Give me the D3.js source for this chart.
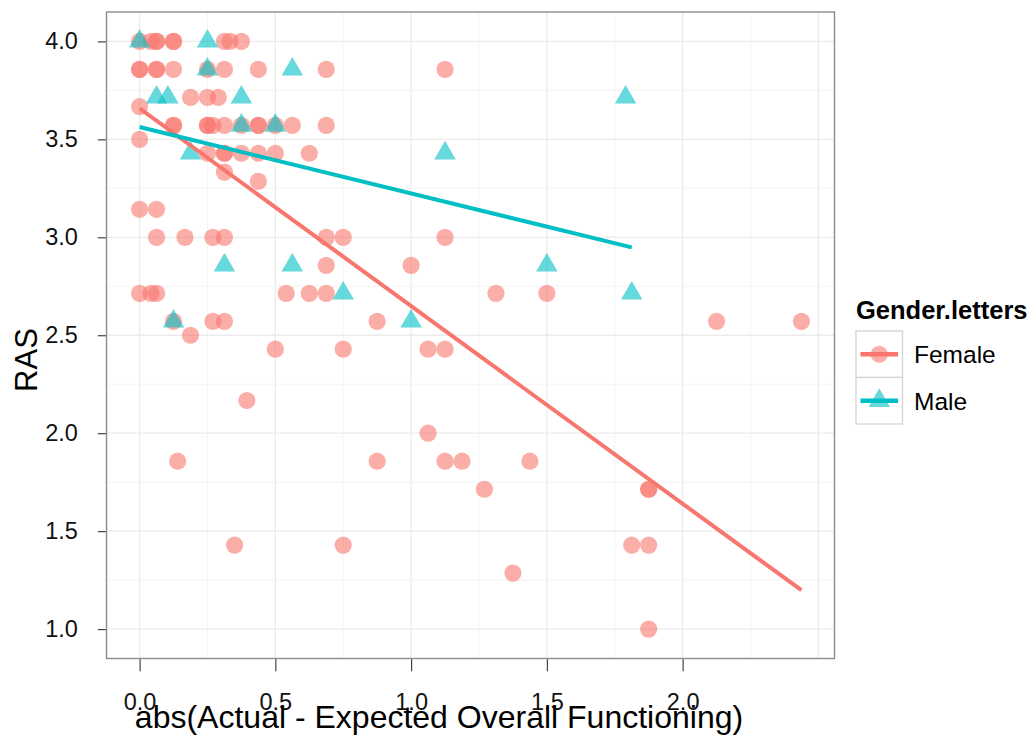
<!DOCTYPE html>
<html>
<head>
<meta charset="utf-8">
<script src="https://cdn.jsdelivr.net/npm/d3@7"></script>
<style>
  body { margin: 0; background: #fff; }
  text { font-family: "Liberation Sans", Arial, sans-serif; }
</style>
</head>
<body>
<div id="chart"></div>
<script>
// values
const femaleX = [0, 0.042, 0.0625, 0.0625, 0.125, 0.125, 0.3125, 0.333, 0.375,
  0, 0, 0.0625, 0.0625, 0.125, 0.25, 0.3125, 0.4375, 0.6875, 1.125,
  0.1875, 0.25, 0.29,
  0,
  0.125, 0.125, 0.25, 0.25, 0.27, 0.3125, 0.375, 0.4375, 0.4375, 0.5, 0.5625, 0.6875,
  0,
  0.25, 0.3125, 0.3125, 0.375, 0.4375, 0.5, 0.625,
  0.3125, 0.4375,
  0, 0.0625,
  0.0625, 0.167, 0.27, 0.3125, 0.6875, 0.75, 1.125,
  0.6875, 1.0,
  0, 0.042, 0.0625, 0.54, 0.625, 0.6875, 1.3125, 1.5,
  0.125, 0.27, 0.3125, 0.875, 2.125, 2.4375,
  0.1875,
  0.5, 0.75, 1.0625, 1.125,
  0.395,
  1.0625,
  0.14, 0.875, 1.125, 1.1875, 1.4375,
  1.27, 1.875, 1.875,
  0.35, 0.75, 1.8125, 1.875,
  1.375,
  1.875];
const femaleY = [4, 4, 4, 4, 4, 4, 4, 4, 4,
  3.857, 3.857, 3.857, 3.857, 3.857, 3.857, 3.857, 3.857, 3.857, 3.857,
  3.714, 3.714, 3.714,
  3.667,
  3.571, 3.571, 3.571, 3.571, 3.571, 3.571, 3.571, 3.571, 3.571, 3.571, 3.571, 3.571,
  3.5,
  3.429, 3.429, 3.429, 3.429, 3.429, 3.429, 3.429,
  3.333, 3.286,
  3.143, 3.143,
  3, 3, 3, 3, 3, 3, 3,
  2.857, 2.857,
  2.714, 2.714, 2.714, 2.714, 2.714, 2.714, 2.714, 2.714,
  2.571, 2.571, 2.571, 2.571, 2.571, 2.571,
  2.5,
  2.429, 2.429, 2.429, 2.429,
  2.167,
  2.0,
  1.857, 1.857, 1.857, 1.857, 1.857,
  1.714, 1.714, 1.714,
  1.429, 1.429, 1.429, 1.429,
  1.286,
  1.0];

const maleX = [0, 0.25, 0.25, 0.5625, 0.0625, 0.104, 0.375, 1.79, 0.375, 0.5,
  0.1875, 1.125, 0.3125, 0.5625, 1.5, 0.75, 1.8125, 0.125, 1.0];
const maleY = [4, 4, 3.857, 3.857, 3.714, 3.714, 3.714, 3.714, 3.571, 3.571,
  3.429, 3.429, 2.857, 2.857, 2.857, 2.714, 2.714, 2.571, 2.571];

// lm fit lines (overplotted points hide some data)
const groups = ["Female", "Male"];
const fitIntercept = [3.658, 3.563];
const fitSlope = [-1.009, -0.339];

const colors = ["#F8766D", "#00BFC4"];
const xTicks = [0, 0.5, 1.0, 1.5, 2.0];
const yTicks = [1.0, 1.5, 2.0, 2.5, 3.0, 3.5, 4.0];
const xGrid = [0, 0.25, 0.5, 0.75, 1, 1.25, 1.5, 1.75, 2, 2.25, 2.5];
const yGrid = [1, 1.25, 1.5, 1.75, 2, 2.25, 2.5, 2.75, 3, 3.25, 3.5, 3.75, 4];

const svgWidth = 1033, svgHeight = 742;
const panel = { left: 106.5, right: 834.5, top: 12, bottom: 658.5 };

const svg = d3.select("#chart").append("svg")
  .attr("width", svgWidth)
  .attr("height", svgHeight);

const data = [];
femaleX.forEach((x, i) => data.push({ x: x, y: femaleY[i], g: "Female" }));
maleX.forEach((x, i) => data.push({ x: x, y: maleY[i], g: "Male" }));

// ggplot style 5% expansion
const xExt = d3.extent(data, d => d.x), yExt = d3.extent(data, d => d.y);
const xPad = (xExt[1] - xExt[0]) * 0.05, yPad = (yExt[1] - yExt[0]) * 0.05;

const x = d3.scaleLinear()
  .domain([xExt[0] - xPad, xExt[1] + xPad])
  .range([panel.left, panel.right]);
const y = d3.scaleLinear()
  .domain([yExt[0] - yPad, yExt[1] + yPad])
  .range([panel.bottom, panel.top]);

const color = d3.scaleOrdinal().domain(groups).range(colors);

// grid
const grid = svg.append("g");
grid.selectAll("line.gx").data(xGrid).enter().append("line")
  .attr("x1", d => x(d)).attr("x2", d => x(d))
  .attr("y1", panel.top).attr("y2", panel.bottom)
  .attr("stroke", (d, i) => i % 2 ? "#f4f4f4" : "#ebebeb")
  .attr("stroke-width", (d, i) => i % 2 ? 1 : 1.3);
grid.selectAll("line.gy").data(yGrid).enter().append("line")
  .attr("y1", d => y(d)).attr("y2", d => y(d))
  .attr("x1", panel.left).attr("x2", panel.right)
  .attr("stroke", (d, i) => i % 2 ? "#f4f4f4" : "#ebebeb")
  .attr("stroke-width", (d, i) => i % 2 ? 1 : 1.3);

// points
const triangle = d3.symbol().type(d3.symbolTriangle).size(200);
svg.append("g").selectAll("circle")
  .data(data.filter(d => d.g === "Female"))
  .enter().append("circle")
  .attr("cx", d => x(d.x))
  .attr("cy", d => y(d.y))
  .attr("r", 8.6)
  .attr("fill", color("Female"))
  .attr("fill-opacity", 0.6);

svg.append("g").selectAll("path")
  .data(data.filter(d => d.g === "Male"))
  .enter().append("path")
  .attr("d", triangle)
  .attr("transform", d => `translate(${x(d.x)},${y(d.y)})`)
  .attr("fill", color("Male"))
  .attr("fill-opacity", 0.6);

// fit lines over each group's x range
const line = d3.line().x(d => x(d.x)).y(d => y(d.y));
groups.forEach((g, i) => {
  const ext = d3.extent(data.filter(d => d.g === g), d => d.x);
  const pts = ext.map(v => ({ x: v, y: fitIntercept[i] + fitSlope[i] * v }));
  svg.append("path")
    .datum(pts)
    .attr("fill", "none")
    .attr("stroke", color(g))
    .attr("stroke-width", 4)
    .attr("d", line);
});

// panel border
svg.append("rect")
  .attr("x", panel.left).attr("y", panel.top)
  .attr("width", panel.right - panel.left)
  .attr("height", panel.bottom - panel.top)
  .attr("fill", "none")
  .attr("stroke", "#8c8c8c")
  .attr("stroke-width", 1.4);

// axes
const xAxis = d3.axisBottom(x).tickValues(xTicks).tickFormat(d3.format(".1f"))
  .tickSize(12).tickPadding(22);
svg.append("g")
  .attr("transform", `translate(0,${panel.bottom + 0.7})`)
  .call(xAxis)
  .call(g => g.select(".domain").remove())
  .call(g => g.selectAll(".tick line").attr("stroke", "#333").attr("stroke-width", 1.1))
  .call(g => g.selectAll(".tick text").attr("fill", "#111")
    .attr("font-size", 23.5).attr("font-family", "Liberation Sans, Arial, sans-serif"));

const yAxis = d3.axisLeft(y).tickValues(yTicks).tickFormat(d3.format(".1f"))
  .tickSize(8).tickPadding(20);
svg.append("g")
  .attr("transform", `translate(${panel.left - 0.7},0)`)
  .call(yAxis)
  .call(g => g.select(".domain").remove())
  .call(g => g.selectAll(".tick line").attr("stroke", "#333").attr("stroke-width", 1.1))
  .call(g => g.selectAll(".tick text").attr("fill", "#111")
    .attr("font-size", 23.5).attr("font-family", "Liberation Sans, Arial, sans-serif"));

// titles
svg.append("text")
  .attr("x", 439).attr("y", 728)
  .attr("text-anchor", "middle")
  .attr("font-size", 32)
  .attr("fill", "#000")
  .text("abs(Actual - Expected Overall Functioning)");

svg.append("text")
  .attr("transform", "translate(37,360) rotate(-90)")
  .attr("text-anchor", "middle")
  .attr("font-size", 31)
  .attr("fill", "#000")
  .text("RAS");

// legend
const legend = svg.append("g").attr("transform", "translate(856,319)");
legend.append("text")
  .attr("x", 0).attr("y", 0)
  .attr("font-size", 25.5)
  .attr("font-weight", "bold")
  .text("Gender.letters");

groups.forEach((g, i) => {
  const key = legend.append("g").attr("transform", `translate(0,${12 + i * 46.5})`);
  key.append("rect")
    .attr("width", 46.5).attr("height", 46.5)
    .attr("fill", "#fff")
    .attr("stroke", "#d6d6d6")
    .attr("stroke-width", 1.4);
  if (g === "Female") {
    key.append("circle").attr("cx", 23.25).attr("cy", 23.25).attr("r", 8.6)
      .attr("fill", color(g)).attr("fill-opacity", 0.6);
  } else {
    key.append("path").attr("d", triangle)
      .attr("transform", "translate(23.25,23.25)")
      .attr("fill", color(g)).attr("fill-opacity", 0.6);
  }
  key.append("line")
    .attr("x1", 4.5).attr("x2", 42)
    .attr("y1", 23.25).attr("y2", 23.25)
    .attr("stroke", color(g))
    .attr("stroke-width", 4.5);
  key.append("text")
    .attr("x", 58).attr("y", 32)
    .attr("font-size", 24.5)
    .text(g);
});
</script>
</body>
</html>
